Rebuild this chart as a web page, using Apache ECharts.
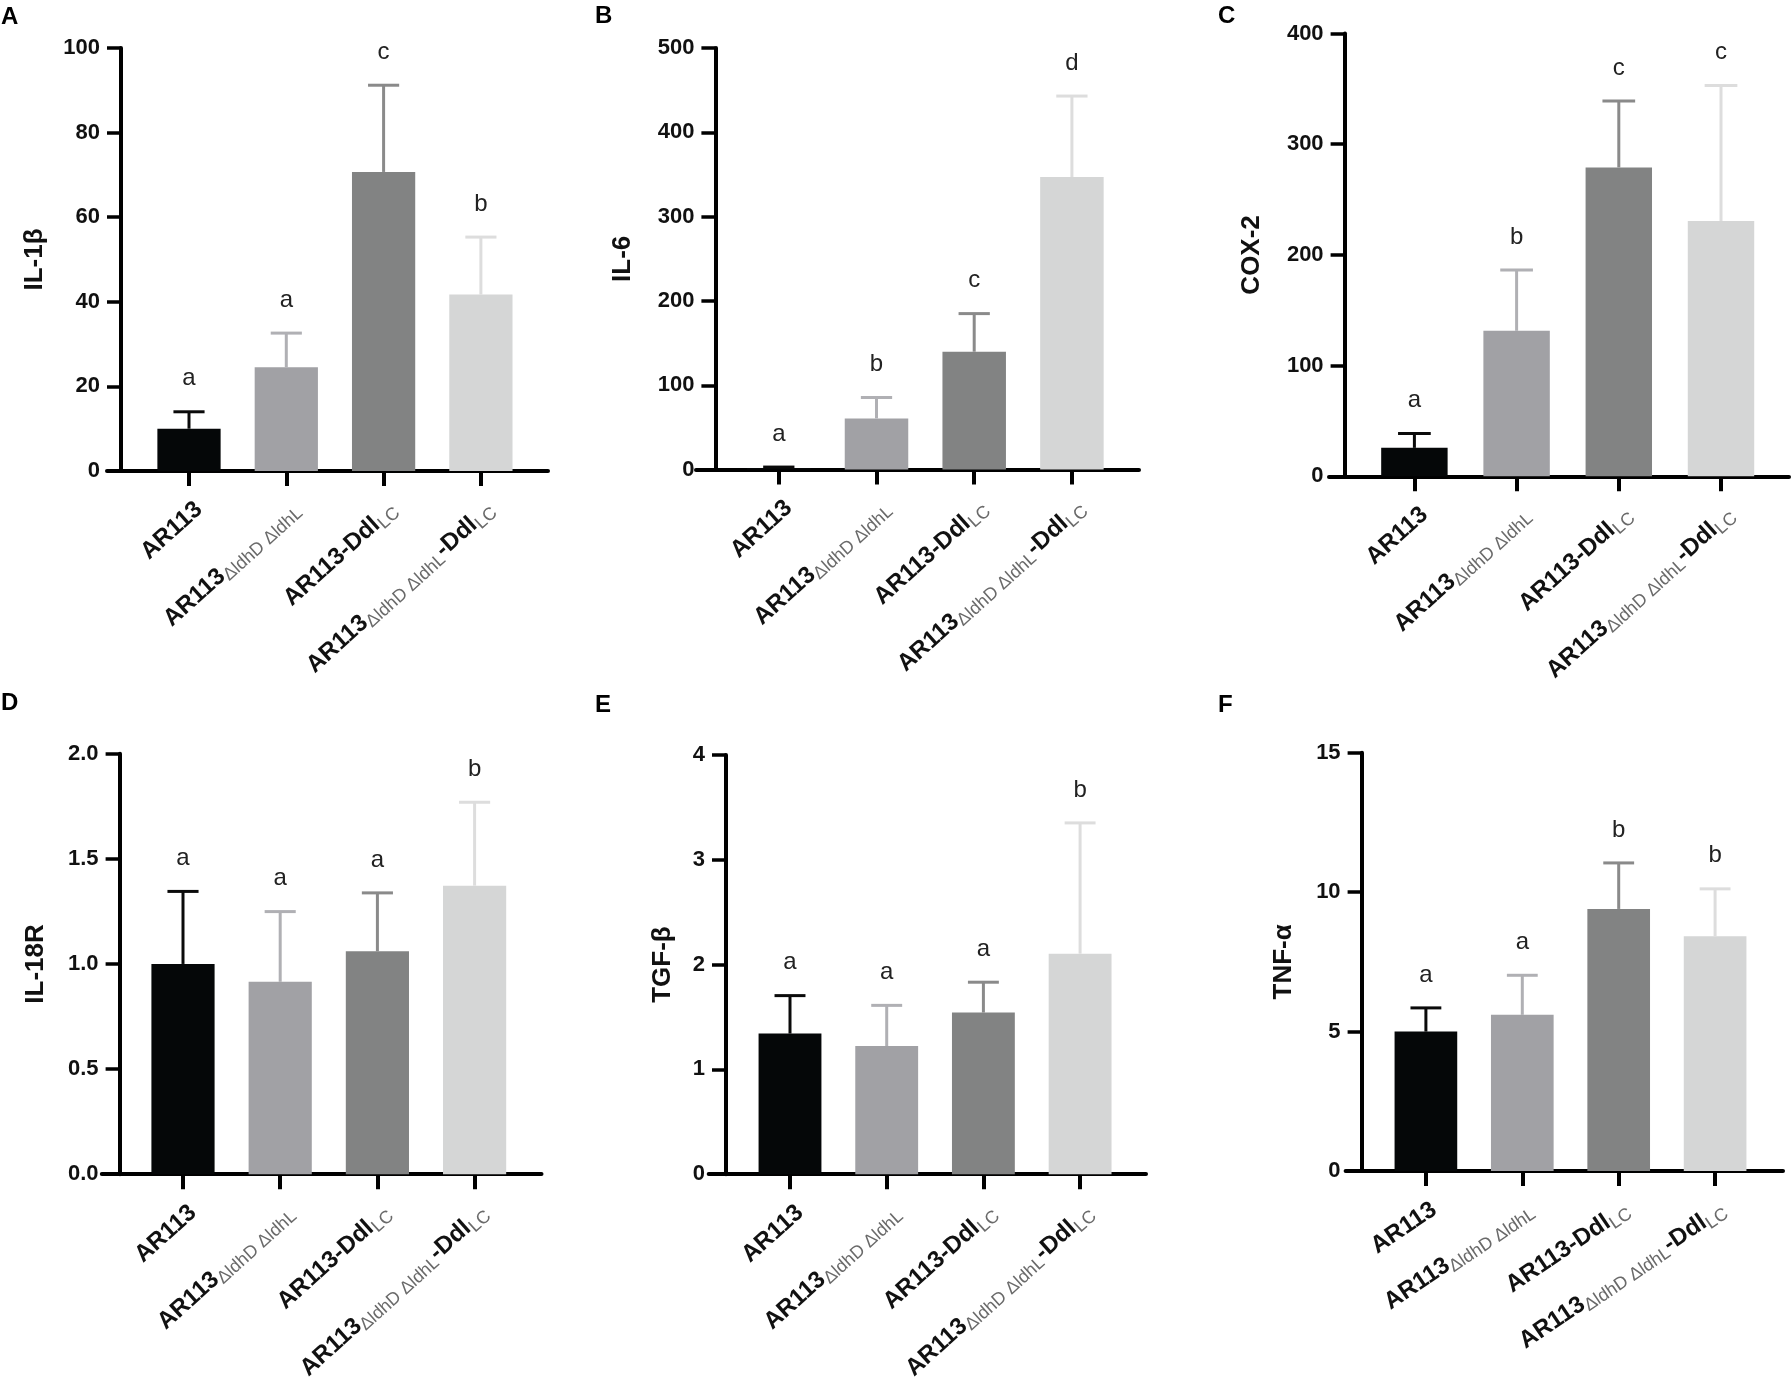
<!DOCTYPE html>
<html>
<head>
<meta charset="utf-8">
<script src="https://cdn.jsdelivr.net/npm/echarts@6/dist/echarts.min.js"></script>
<style>
    html, body { margin: 0; padding: 0; background: #fff; }
    #main { width: 1792px; height: 1380px; }
</style>
</head>
<body>
<div id="main"></div>
<script>
// groups on the x axis, _{...} is a subscript
const categories = ['AR113', 'AR113_{ΔldhD ΔldhL}', 'AR113-Ddl_{LC}', 'AR113_{ΔldhD ΔldhL}-Ddl_{LC}'];

// mean and top of the error bar for each cytokine
const il1bMean = [10, 24.5, 70.7, 41.7];
const il1bUpper = [14, 32.6, 91.2, 55.3];
const il1bLetters = ['a', 'a', 'c', 'b'];

const il6Mean = [2, 60.7, 139.8, 347];
const il6Upper = [3, 85.5, 185, 443];
const il6Letters = ['a', 'b', 'c', 'd'];

const cox2Mean = [25.7, 131.4, 279, 230.6];
const cox2Upper = [38.7, 186.3, 339, 353];
const cox2Letters = ['a', 'b', 'c', 'c'];

const il18rMean = [1.0, 0.915, 1.06, 1.372];
const il18rUpper = [1.345, 1.249, 1.338, 1.769];
const il18rLetters = ['a', 'a', 'a', 'b'];

const tgfbMean = [1.342, 1.223, 1.542, 2.104];
const tgfbUpper = [1.704, 1.611, 1.832, 3.352];
const tgfbLetters = ['a', 'a', 'a', 'b'];

const tnfaMean = [5.0, 5.6, 9.4, 8.42];
const tnfaUpper = [5.85, 7.02, 11.05, 10.12];
const tnfaLetters = ['a', 'a', 'b', 'b'];

// y axis ranges [max, step, decimals]
const il1bAxis = [100, 20, 0];
const il6Axis = [500, 100, 0];
const cox2Axis = [400, 100, 0];
const il18rAxis = [2, 0.5, 1];
const tgfbAxis = [4, 1, 0];
const tnfaAxis = [15, 5, 0];

const barColors = ['#050708', '#a1a1a5', '#828383', '#d5d6d6'];
const errColors = ['#0a0a0a', '#b0b0b4', '#8a8a8a', '#dddddd'];
const FONT = '"Liberation Sans", Arial, sans-serif';

// page layout of each panel (pixels)
const panels = [
    {tag: 'A', name: 'IL-1β', mean: il1bMean, upper: il1bUpper, letters: il1bLetters, axis: il1bAxis,
        axisX: 121, y0: 471, yTop: 48, lineL: 107, lineR: 548, c0: 189, step: 97.3, nameGap: 73, tagXY: [1, 17], rot: 42, lm: 24},
    {tag: 'B', name: 'IL-6', mean: il6Mean, upper: il6Upper, letters: il6Letters, axis: il6Axis,
        axisX: 715.4, y0: 469.6, yTop: 48, lineL: 696, lineR: 1139, c0: 778.8, step: 97.7, nameGap: 80, tagXY: [595, 16], rot: 42, lm: 24},
    {tag: 'C', name: 'COX-2', mean: cox2Mean, upper: cox2Upper, letters: cox2Letters, axis: cox2Axis,
        axisX: 1344.6, y0: 476.3, yTop: 33.5, lineL: 1329, lineR: 1789, c0: 1414.4, step: 102.2, nameGap: 80, tagXY: [1218, 16], rot: 42, lm: 24},
    {tag: 'D', name: 'IL-18R', mean: il18rMean, upper: il18rUpper, letters: il18rLetters, axis: il18rAxis,
        axisX: 119.6, y0: 1174.2, yTop: 753.7, lineL: 101.8, lineR: 541.5, c0: 183, step: 97.2, nameGap: 71, tagXY: [1, 703], rot: 42, lm: 24},
    {tag: 'E', name: 'TGF-β', mean: tgfbMean, upper: tgfbUpper, letters: tgfbLetters, axis: tgfbAxis,
        axisX: 726, y0: 1174.2, yTop: 755, lineL: 708.7, lineR: 1146, c0: 790, step: 96.7, nameGap: 50, tagXY: [595, 705], rot: 42, lm: 24},
    {tag: 'F', name: 'TNF-α', mean: tnfaMean, upper: tnfaUpper, letters: tnfaLetters, axis: tnfaAxis,
        axisX: 1361.6, y0: 1171, yTop: 752.8, lineL: 1345.6, lineR: 1783, c0: 1425.9, step: 96.4, nameGap: 65, tagXY: [1218, 705], rot: 34, lm: 24}
];

function richLabel(s) {
    return ('{b|' + s.replace(/_\{([^}]*)\}/g, '}{s|$1}{b|') + '}').replace(/\{b\|\}/g, '');
}

/**
 * error bar (upper only) plus the letter above it
 * @param letters
 */
function errorItem(letters) {
    return function (params, api) {
        let i = api.value(0);
        let base = api.coord([i, api.value(1)]);
        let top = api.coord([i, api.value(2)]);
        let half = api.size([1, 0])[0] * 0.16;
        let color = errColors[i];
        return {
            type: 'group',
            children: [
                {type: 'line', shape: {x1: base[0], y1: base[1], x2: top[0], y2: top[1]}, style: {stroke: color, lineWidth: 3}},
                {type: 'line', shape: {x1: top[0] - half, y1: top[1], x2: top[0] + half, y2: top[1]}, style: {stroke: color, lineWidth: 3}},
                {type: 'text', x: top[0], y: top[1] - 33,
                    style: {text: letters[i], font: '24px ' + FONT, fill: '#222', align: 'center', verticalAlign: 'middle'}}
            ]
        };
    };
}

let option = {
    animation: false,
    backgroundColor: '#fff',
    grid: [],
    xAxis: [],
    yAxis: [],
    series: [],
    graphic: []
};

panels.forEach((p, k) => {
    let bandLeft = p.c0 - p.step / 2;
    let height = p.y0 - p.yTop;
    // main grid with bars
    option.grid.push({left: bandLeft, top: p.yTop, width: p.step * 4, height: height,
        containLabel: false, outerBoundsMode: 'none'});
    // wider grid only for the long x axis line
    option.grid.push({left: p.lineL, top: p.yTop, width: p.lineR - p.lineL, height: height,
        containLabel: false, outerBoundsMode: 'none'});

    option.xAxis.push({
        type: 'category',
        gridIndex: 2 * k,
        data: categories,
        axisLine: {show: false},
        axisTick: {show: true, alignWithLabel: true, length: 15, lineStyle: {color: '#000', width: 4}},
        splitLine: {show: false},
        axisLabel: {
            interval: 0,
            rotate: p.rot,
            margin: p.lm,
            align: 'right',
            verticalAlign: 'top',
            formatter: richLabel,
            rich: {
                b: {fontFamily: FONT, fontSize: 24, fontWeight: 'bold', color: '#111', lineHeight: 30},
                s: {fontFamily: FONT, fontSize: 18, color: '#6a6a6a', verticalAlign: 'bottom', lineHeight: 20}
            }
        }
    });
    option.xAxis.push({
        type: 'value',
        gridIndex: 2 * k + 1,
        min: 0,
        max: 1,
        axisLine: {show: true, onZero: false, lineStyle: {color: '#000', width: 4}},
        axisTick: {show: false},
        axisLabel: {show: false},
        splitLine: {show: false}
    });

    option.yAxis.push({
        type: 'value',
        gridIndex: 2 * k,
        min: 0,
        max: p.axis[0],
        interval: p.axis[1],
        offset: bandLeft - p.axisX,
        name: p.name,
        nameLocation: 'middle',
        nameRotate: 90,
        nameGap: p.nameGap,
        nameMoveOverlap: false,
        nameTextStyle: {fontFamily: FONT, fontSize: 26, fontWeight: 'bold', color: '#111'},
        axisLine: {show: true, lineStyle: {color: '#000', width: 4}},
        axisTick: {show: true, length: 14, lineStyle: {color: '#000', width: 3.5}},
        splitLine: {show: false},
        axisLabel: {
            margin: 21,
            fontFamily: FONT,
            fontSize: 22,
            fontWeight: 'bold',
            color: '#111',
            formatter: v => v.toFixed(p.axis[2])
        }
    });
    option.yAxis.push({type: 'value', gridIndex: 2 * k + 1, min: 0, max: 1, show: false});

    option.series.push({
        type: 'bar',
        xAxisIndex: 2 * k,
        yAxisIndex: 2 * k,
        barWidth: '65%',
        data: p.mean.map((v, i) => ({value: v, itemStyle: {color: barColors[i]}})),
        z: 2
    });
    option.series.push({
        type: 'custom',
        xAxisIndex: 2 * k,
        yAxisIndex: 2 * k,
        data: p.mean.map((v, i) => [i, v, p.upper[i]]),
        renderItem: errorItem(p.letters),
        z: 3
    });

    option.graphic.push({
        type: 'text',
        x: p.tagXY[0],
        y: p.tagXY[1],
        style: {text: p.tag, font: 'bold 24px ' + FONT, fill: '#000', verticalAlign: 'middle'}
    });
});

let myChart = echarts.init(document.getElementById('main'));
myChart.setOption(option);
</script>
</body>
</html>
